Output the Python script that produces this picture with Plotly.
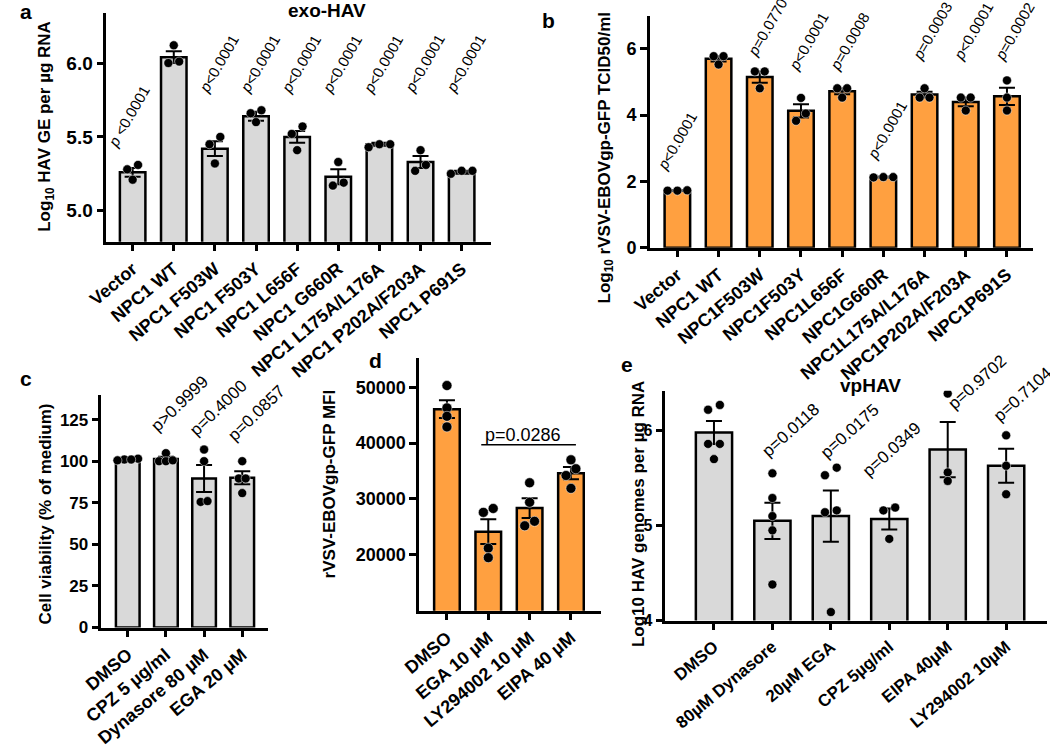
import plotly.graph_objects as go

W, H = 1050, 749
FONT = "Liberation Sans, Arial, sans-serif"
GREY = "#D9D9D9"
ORANGE = "#FFA040"

# ---- panel a: exo-HAV ----
a_labels = ["Vector", "NPC1 WT", "NPC1 F503W", "NPC1 F503Y", "NPC1 L656F",
            "NPC1 G660R", "NPC1 L175A/L176A", "NPC1 P202A/F203A", "NPC1 P691S"]
a_mean = [5.26, 6.04, 5.42, 5.64, 5.50, 5.23, 5.45, 5.33, 5.26]
a_sem = [0.03, 0.04, 0.05, 0.03, 0.04, 0.05, 0.01, 0.04, 0.01]
a_points = [[5.31, 5.21, 5.28], [6.12, 6.00, 6.01], [5.50, 5.45, 5.32],
            [5.68, 5.66, 5.60], [5.57, 5.52, 5.41], [5.33, 5.17, 5.19],
            [5.43, 5.45, 5.45], [5.41, 5.27, 5.31], [5.25, 5.27, 5.27]]
a_p = ["p &lt;0.0001", "", "p&lt;0.0001", "p&lt;0.0001", "p&lt;0.0001",
       "p&lt;0.0001", "p&lt;0.0001", "p&lt;0.0001", "p&lt;0.0001"]

# ---- panel b: rVSV-EBOVgp-GFP titre ----
b_labels = ["Vector", "NPC1 WT", "NPC1F503W", "NPC1F503Y", "NPC1L656F",
            "NPC1G660R", "NPC1L175A/L176A", "NPC1P202A/F203A", "NPC1P691S"]
b_mean = [1.72, 5.70, 5.15, 4.13, 4.72, 2.13, 4.62, 4.40, 4.57]
b_sem = [0.01, 0.08, 0.17, 0.20, 0.09, 0.01, 0.09, 0.13, 0.26]
b_points = [[1.72, 1.72, 1.73], [5.78, 5.53, 5.78], [5.32, 4.81, 5.32],
            [4.52, 4.05, 3.83], [4.81, 4.53, 4.81], [2.12, 2.13, 2.13],
            [4.53, 4.81, 4.53], [4.53, 4.14, 4.53], [5.05, 4.53, 4.14]]
b_p = ["p&lt;0.0001", "", "p=0.0770", "p&lt;0.0001", "p=0.0008",
       "p&lt;0.0001", "p=0.0003", "p&lt;0.0001", "p=0.0002"]

# ---- panel c: cell viability ----
c_labels = ["DMSO", "CPZ 5 µg/ml", "Dynasore 80 µM", "EGA 20 µM"]
c_mean = [101.0, 101.3, 89.6, 90.0]
c_sem = [0.3, 1.3, 8.1, 3.9]
c_points = [[101.0, 100.5, 101.5, 101.0], [100.0, 104.8, 100.0, 100.5],
            [107.0, 100.0, 75.5, 76.0], [100.0, 89.6, 89.6, 80.8]]
c_p = ["", "p&gt;0.9999", "p=0.4000", "p=0.0857"]

# ---- panel d: MFI ----
d_labels = ["DMSO", "EGA 10 µM", "LY294002 10 µM", "EIPA 40 µM"]
d_mean = [46075, 24150, 28375, 34625]
d_sem = [1570, 2230, 1760, 1080]
d_points = [[50300, 46300, 44800, 42900], [27600, 28300, 21200, 19500],
            [32900, 29400, 25200, 26000], [37000, 35400, 34200, 31900]]
d_bracket = "p=0.0286"

# ---- panel e: vpHAV ----
e_labels = ["DMSO", "80µM Dynasore", "20µM EGA", "CPZ 5µg/ml",
            "EIPA 40µM", "LY294002 10µM"]
e_mean = [5.98, 5.05, 5.10, 5.07, 5.80, 5.63]
e_sem = [0.12, 0.19, 0.27, 0.11, 0.29, 0.18]
e_points = [[6.27, 6.22, 5.86, 5.86, 5.70], [5.55, 5.29, 5.10, 4.95, 4.38],
            [5.61, 5.53, 5.16, 5.14, 4.09], [5.19, 5.16, 4.86],
            [6.39, 5.56, 5.47], [5.95, 5.63, 5.33]]
e_p = ["", "p=0.0118", "p=0.0175", "p=0.0349", "p=0.9702", "p=0.7104"]


def px(x):
    return x / W


def py(y):
    return 1 - y / H


def swarm(vals, unit_px, step_px, cat_px):
    # spread points that would overlap into a symmetric row
    order = sorted(range(len(vals)), key=lambda k: vals[k])
    offs = [0.0] * len(vals)
    groups = []
    for k in order:
        if groups and (vals[k] - vals[groups[-1][0]]) * unit_px < 8:
            groups[-1].append(k)
        else:
            groups.append([k])
    for g in groups:
        for j, k in enumerate(g):
            offs[k] = (j - (len(g) - 1) / 2) * step_px / cat_px
    return offs


fig = go.Figure()
annotations = []
shapes = []


def bold(size):
    return dict(family=FONT, size=size, color="black", weight="bold")


def panel(n, labels, means, sems, points, color, xpx, ypx, xr, yr,
          yticks, yticktext, ytfs, xtfs, dot, step):
    sx = "" if n == 1 else str(n)
    xa, ya = "x" + sx, "y" + sx
    idx = list(range(len(labels)))
    fig.add_trace(go.Bar(
        x=idx, y=means, width=0.62, xaxis=xa, yaxis=ya,
        marker=dict(color=color, line=dict(color="black", width=2.5)),
        error_y=dict(type="data", array=sems, visible=True, color="black",
                     thickness=2, width=8)))
    unit_px = (ypx[1] - ypx[0]) / (yr[1] - yr[0])
    cat_px = (xpx[1] - xpx[0]) / (xr[1] - xr[0])
    xs, ys = [], []
    for i, vals in enumerate(points):
        offs = swarm(vals, unit_px, step, cat_px)
        xs += [i + o for o in offs]
        ys += vals
    fig.add_trace(go.Scatter(
        x=xs, y=ys, mode="markers", xaxis=xa, yaxis=ya,
        marker=dict(color="black", size=dot,
                    line=dict(color="white", width=0.5))))
    axis_common = dict(showline=True, linewidth=2.5, linecolor="black",
                       ticks="outside", ticklen=7, tickwidth=2.5,
                       tickcolor="black", showgrid=False, zeroline=False,
                       mirror=False)
    fig.update_layout(**{
        "xaxis" + sx: dict(domain=[px(xpx[0]), px(xpx[1])], range=xr,
                           anchor=ya, tickvals=idx, ticktext=labels,
                           tickangle=-40, tickfont=bold(xtfs), **axis_common),
        "yaxis" + sx: dict(domain=[py(ypx[1]), py(ypx[0])], range=yr,
                           anchor=xa, tickvals=yticks, ticktext=yticktext,
                           tickfont=bold(ytfs), **axis_common),
    })
    return xa, ya


def pvals(xa, ya, texts, ys, shifts, angle, size, italic_p):
    for i, t in enumerate(texts):
        if not t:
            continue
        if italic_p:
            t = "<i>p</i>" + t[1:]
        annotations.append(dict(
            x=i, y=ys[i], xref=xa, yref=ya, text=t, showarrow=False,
            textangle=angle, xanchor="left", yanchor="bottom",
            xshift=shifts[i], font=dict(family=FONT, size=size, color="black")))


# panel a
xa, ya = panel(1, a_labels, a_mean, a_sem, a_points, GREY,
               (88, 480), (13, 245), [-0.64, 8.71], [4.79, 6.34],
               [5.0, 5.5, 6.0], ["5.0", "5.5", "6.0"], 19, 18, 9, 11)
pvals(xa, ya, a_p, [5.39] + [5.76] * 8,
      [-31, 0, -22, -22, -22, -22, -22, -22, -22], -60, 15, True)

# panel b
xa, ya = panel(2, b_labels, b_mean, b_sem, b_points, ORANGE,
               (642, 1033), (16, 251), [-0.67, 8.64], [0, 7.0],
               [0, 2, 4, 6], ["0", "2", "4", "6"], 18, 18, 9, 10)
pvals(xa, ya, b_p, [2.18, 0, 5.61, 5.19, 5.19, 2.51, 5.49, 5.49, 5.49],
      [-26, 0, -19, -19, -19, -22, -19, -19, -19], -60, 15, True)

# panel c
xa, ya = panel(3, c_labels, c_mean, c_sem, c_points, GREY,
               (83, 253), (400, 636), [-0.69, 3.68], [0, 140],
               [0, 25, 50, 75, 100, 125], ["0", "25", "50", "75", "100", "125"],
               17, 18, 9, 7)
pvals(xa, ya, c_p, [0, 114, 111, 108], [0, -21, -21, -21], -44, 17, False)

# panel d
xa, ya = panel(4, d_labels, d_mean, d_sem, d_points, ORANGE,
               (407, 592), (363, 619), [-0.67, 3.72], [10000, 55200],
               [20000, 30000, 40000, 50000],
               ["20000", "30000", "40000", "50000"], 18, 18, 10, 10)
shapes.append(dict(type="line", xref=xa, yref=ya, x0=0.83, x1=3.12,
                   y0=39700, y1=39700, line=dict(color="black", width=1.5)))
annotations.append(dict(x=1.85, y=39700, xref=xa, yref=ya, text=d_bracket,
                        showarrow=False, yanchor="bottom", yshift=-2,
                        font=dict(family=FONT, size=18, color="black")))

# panel e
xa, ya = panel(5, e_labels, e_mean, e_sem, e_points, GREY,
               (658, 1047), (396, 629), [-0.83, 5.7], [4, 6.42],
               [4, 5, 6], ["4", "5", "6"], 16, 17, 9, 12)
pvals(xa, ya, e_p, [0, 5.65, 5.64, 5.45, 6.15, 6.03],
      [0, -17, -17, -33, -6, -19], -42, 17, False)

# axis titles, panel letters, panel titles
ytitles = [
    ("Log<sub>10</sub> HAV GE per µg RNA", 27, 128),
    ("Log<sub>10</sub> rVSV-EBOVgp-GFP TCID50/ml", 597, 160),
    ("Cell viability (% of medium)", 26, 521),
    ("rVSV-EBOVgp-GFP MFI", 315, 491),
    ("Log10 HAV genomes per µg RNA", 630, 521),
]
for text, x, y in ytitles:
    annotations.append(dict(x=px(x), y=py(y), xref="paper", yref="paper",
                            text=text, showarrow=False, textangle=-90,
                            xanchor="center", yanchor="middle", font=bold(17)))

letters = [("a", 6, 12), ("b", 539, 21), ("c", 6, 384), ("d", 362, 365),
           ("e", 619, 369)]
for text, x, y in letters:
    annotations.append(dict(x=px(x), y=py(y), xref="paper", yref="paper",
                            text=text, showarrow=False, xanchor="center",
                            yanchor="middle", font=bold(21)))

for text, x, y in [("exo-HAV", 313, 11), ("vpHAV", 867, 391)]:
    annotations.append(dict(x=px(x), y=py(y), xref="paper", yref="paper",
                            text=text, showarrow=False, xanchor="center",
                            yanchor="middle", font=bold(19)))

fig.update_layout(
    width=W, height=H, margin=dict(l=0, r=0, t=0, b=0),
    paper_bgcolor="white", plot_bgcolor="white", showlegend=False,
    annotations=annotations, shapes=shapes,
)

fig.write_html("out.html", config={"displayModeBar": False},
               post_script="document.body.style.margin='0';")
